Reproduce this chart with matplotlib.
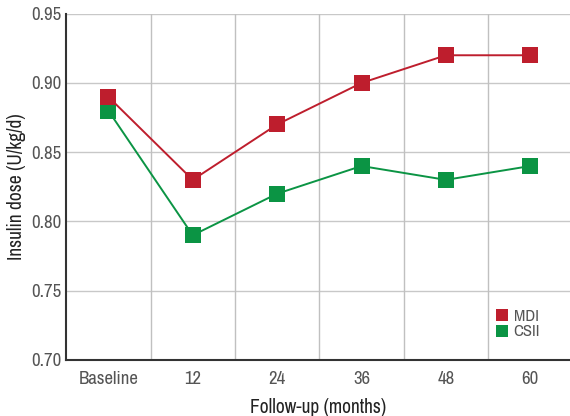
import matplotlib
matplotlib.use('Agg')
import matplotlib.pyplot as plt
from matplotlib.lines import Line2D
from matplotlib import font_manager

categories = ['Baseline', '12', '24', '36', '48', '60']
mdi = [0.89, 0.83, 0.87, 0.90, 0.92, 0.92]
csii = [0.88, 0.79, 0.82, 0.84, 0.83, 0.84]
yticks = [0.70, 0.75, 0.80, 0.85, 0.90, 0.95]

RED = '#be1e2d'
GREEN = '#0b9444'

# pick a narrow family if there is one, to get close to the condensed look
names = sorted({f.name for f in font_manager.fontManager.ttflist})
narrow = [n for n in names if 'Narrow' in n or 'Condensed' in n]
plt.rcParams['font.family'] = narrow[:1] + ['DejaVu Sans']
plt.rcParams['font.stretch'] = 'condensed'

fig = plt.figure(figsize=(5.7, 4.16), dpi=100)
ax = fig.add_axes([0.116, 0.135, 0.884, 0.832])

x = list(range(len(categories)))
ax.plot(x, csii, color=GREEN, lw=1.4, marker='s', ms=12, mew=0, zorder=3)
ax.plot(x, mdi, color=RED, lw=1.4, marker='s', ms=12, mew=0, zorder=3)

ax.set_xlim(-0.5, 5.47)
ax.set_ylim(0.70, 0.95)
ax.set_yticks(yticks)
ax.set_yticklabels([f'{v:.2f}' for v in yticks])
ax.set_xticks(x)
ax.set_xticklabels(categories)
ax.tick_params(length=0, labelsize=13.5, colors='#555555')
ax.tick_params(axis='x', pad=8)
ax.tick_params(axis='y', pad=3)

# grid: horizontal at ticks, vertical between categories
for v in yticks[1:]:
    ax.axhline(v, color='#c8c8c8', lw=1, zorder=1)
for b in [i + 0.5 for i in x[:-1]]:
    ax.axvline(b, color='#c0c0c0', lw=1, zorder=1)

for s in ['top', 'right']:
    ax.spines[s].set_visible(False)
for s in ['left', 'bottom']:
    ax.spines[s].set_color('#333333')
    ax.spines[s].set_linewidth(1.5)

ax.set_xlabel('Follow-up (months)', fontsize=14, color='#222222',
              fontweight='medium', labelpad=8)
ax.set_ylabel('Insulin dose (U/kg/d)', fontsize=14, color='#222222',
              fontweight='medium', labelpad=4)

handles = [Line2D([], [], color=RED, marker='s', ls='', ms=9, mew=0),
           Line2D([], [], color=GREEN, marker='s', ls='', ms=9, mew=0)]
leg = ax.legend(handles, ['MDI', 'CSII'], loc='lower left', bbox_to_anchor=(0.835, 0.035),
                frameon=False, fontsize=12, handlelength=0.8, handletextpad=0.3,
                labelspacing=0.05, borderpad=0)
for t in leg.get_texts():
    t.set_color('#555555')

fig.savefig('out.png', dpi=100)
